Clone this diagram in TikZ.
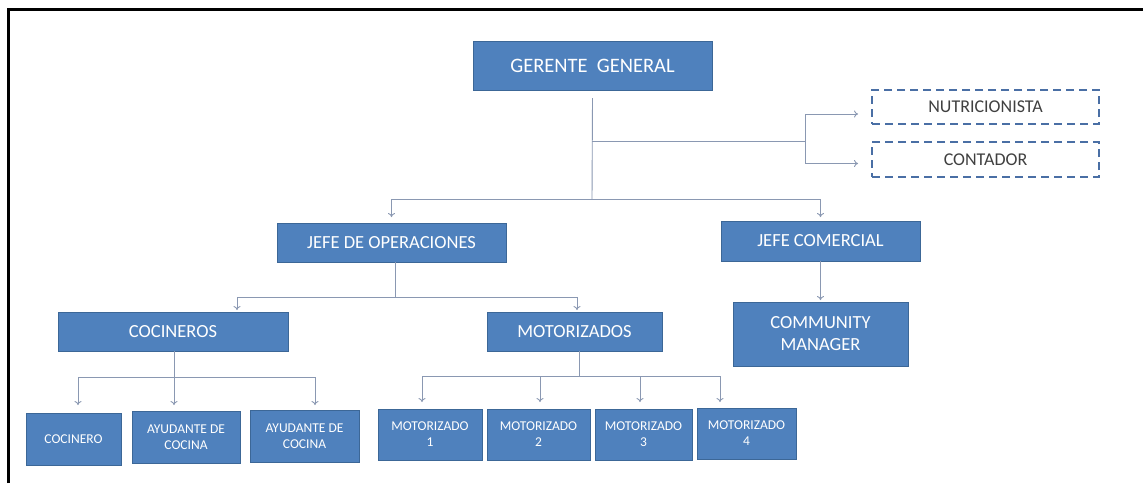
\documentclass[tikz,border=0pt]{standalone}
\usepackage{fontspec}
\setmainfont{Carlito}
\usetikzlibrary{arrows.meta}
\definecolor{boxfill}{HTML}{4F81BD}
\definecolor{boxline}{HTML}{3C6797}
\definecolor{conncol}{HTML}{8A98B2}
\definecolor{dashline}{HTML}{4A6FA5}
\definecolor{dashtext}{HTML}{404040}
\tikzset{
  bluebox/.style={draw=boxline, line width=0.8pt, fill=boxfill, text=white, inner sep=0pt, outer sep=0pt, align=center},
  bigtxt/.style={font=\fontsize{18.5}{22}\selectfont},
  smalltxt/.style={font=\fontsize{13.5}{16}\selectfont},
  dashbox/.style={draw=dashline, line width=1.1pt, dash pattern=on 8pt off 5pt, text=dashtext, inner sep=0pt, outer sep=0pt, font=\fontsize{18}{20}\selectfont},
  conn/.style={draw=conncol, line width=0.9pt},
  arr/.style={conn, -{To[length=4pt,width=7pt]}},
}
\begin{document}
\begin{tikzpicture}[x=1pt,y=-1pt]
\useasboundingbox (0,0) rectangle (1143,483);
\fill[white] (0,0) rectangle (1143,483);
\draw[line width=3pt] (8,483) -- (8,9) -- (1143,9);

% nodes
\node[bluebox, font=\fontsize{20.5}{22}\selectfont, minimum width=239pt, minimum height=49pt] (gg) at (592.5,65.5) {GERENTE\ \ GENERAL};
\node[dashbox, minimum width=227pt, minimum height=34pt] (nut) at (985.5,107) {NUTRICIONISTA};
\node[dashbox, minimum width=227pt, minimum height=35pt] (con) at (985.5,159.5) {CONTADOR};
\node[bluebox, bigtxt, minimum width=229pt, minimum height=39pt] (jdo) at (391.5,242.5) {JEFE DE OPERACIONES};
\node[bluebox, bigtxt, minimum width=199pt, minimum height=40pt] (jc) at (820.5,241) {JEFE COMERCIAL};
\node[bluebox, bigtxt, minimum width=175pt, minimum height=64pt] (cm) at (820.5,334) {COMMUNITY\\MANAGER};
\node[bluebox, bigtxt, minimum width=230pt, minimum height=39pt] (coc) at (173,331.5) {COCINEROS};
\node[bluebox, bigtxt, minimum width=175pt, minimum height=39pt] (mot) at (574.5,331.5) {MOTORIZADOS};
\node[bluebox, smalltxt, minimum width=95pt, minimum height=52pt] (c1) at (73.5,439) {COCINERO};
\node[bluebox, smalltxt, minimum width=108pt, minimum height=52pt] (c2) at (186,437) {AYUDANTE DE\\COCINA};
\node[bluebox, smalltxt, minimum width=109pt, minimum height=52pt] (c3) at (304.5,436) {AYUDANTE DE\\COCINA};
\node[bluebox, smalltxt, minimum width=104pt, minimum height=51pt] (m1) at (430,434.5) {MOTORIZADO\\1};
\node[bluebox, smalltxt, minimum width=103pt, minimum height=51pt] (m2) at (538.5,434.5) {MOTORIZADO\\2};
\node[bluebox, smalltxt, minimum width=97pt, minimum height=51pt] (m3) at (643.5,434.5) {MOTORIZADO\\3};
\node[bluebox, smalltxt, minimum width=99pt, minimum height=51pt] (m4) at (746.5,433.5) {MOTORIZADO\\4};

% connectors from gerente general
\coordinate (busA) at (592,199);
\coordinate (sideA) at (592,141);
\coordinate (sideB) at (805,141);
\draw[conn] ([yshift=-8pt]gg.south) -- (busA);
\draw[arr] (busA) -| ([yshift=6pt]jdo.north);
\draw[arr] (busA) -| ([yshift=4pt]jc.north);
\draw[conn] (sideA) -- (sideB);
\draw[arr] (sideB) |- ([xshift=-14pt,yshift=-7pt]nut.west);
\draw[arr] (sideB) |- ([xshift=-14pt,yshift=-4pt]con.west);

% jefe comercial
\draw[arr] (jc.south) -- ([yshift=2pt]cm.north);

% jefe de operaciones
\coordinate (busB) at (395,297);
\draw[conn] ([xshift=3.5pt]jdo.south) -- (busB);
\draw[arr] (busB) -| ([xshift=64pt,yshift=2pt]coc.north);
\draw[arr] (busB) -| ([xshift=2.5pt,yshift=2pt]mot.north);

% cocineros
\coordinate (busC) at (174,377);
\draw[conn] ([xshift=1pt]coc.south) -- (busC);
\draw[arr] (busC) -| ([xshift=4.5pt,yshift=8pt]c1.north);
\draw[arr] (busC) -| ([xshift=-12pt,yshift=6pt]c2.north);
\draw[arr] (busC) -| ([xshift=10.5pt,yshift=5pt]c3.north);

% motorizados
\coordinate (busD) at (579,376);
\draw[conn] ([xshift=4.5pt]mot.south) -- (busD);
\draw[arr] (busD) -| ([xshift=-8pt,yshift=7pt]m1.north);
\draw[arr] (busD) -| ([xshift=1.5pt,yshift=7pt]m2.north);
\draw[arr] (busD) -| ([xshift=-3.5pt,yshift=7pt]m3.north);
\draw[arr] (busD) -| ([xshift=-26.5pt,yshift=6pt]m4.north);
\end{tikzpicture}
\end{document}
